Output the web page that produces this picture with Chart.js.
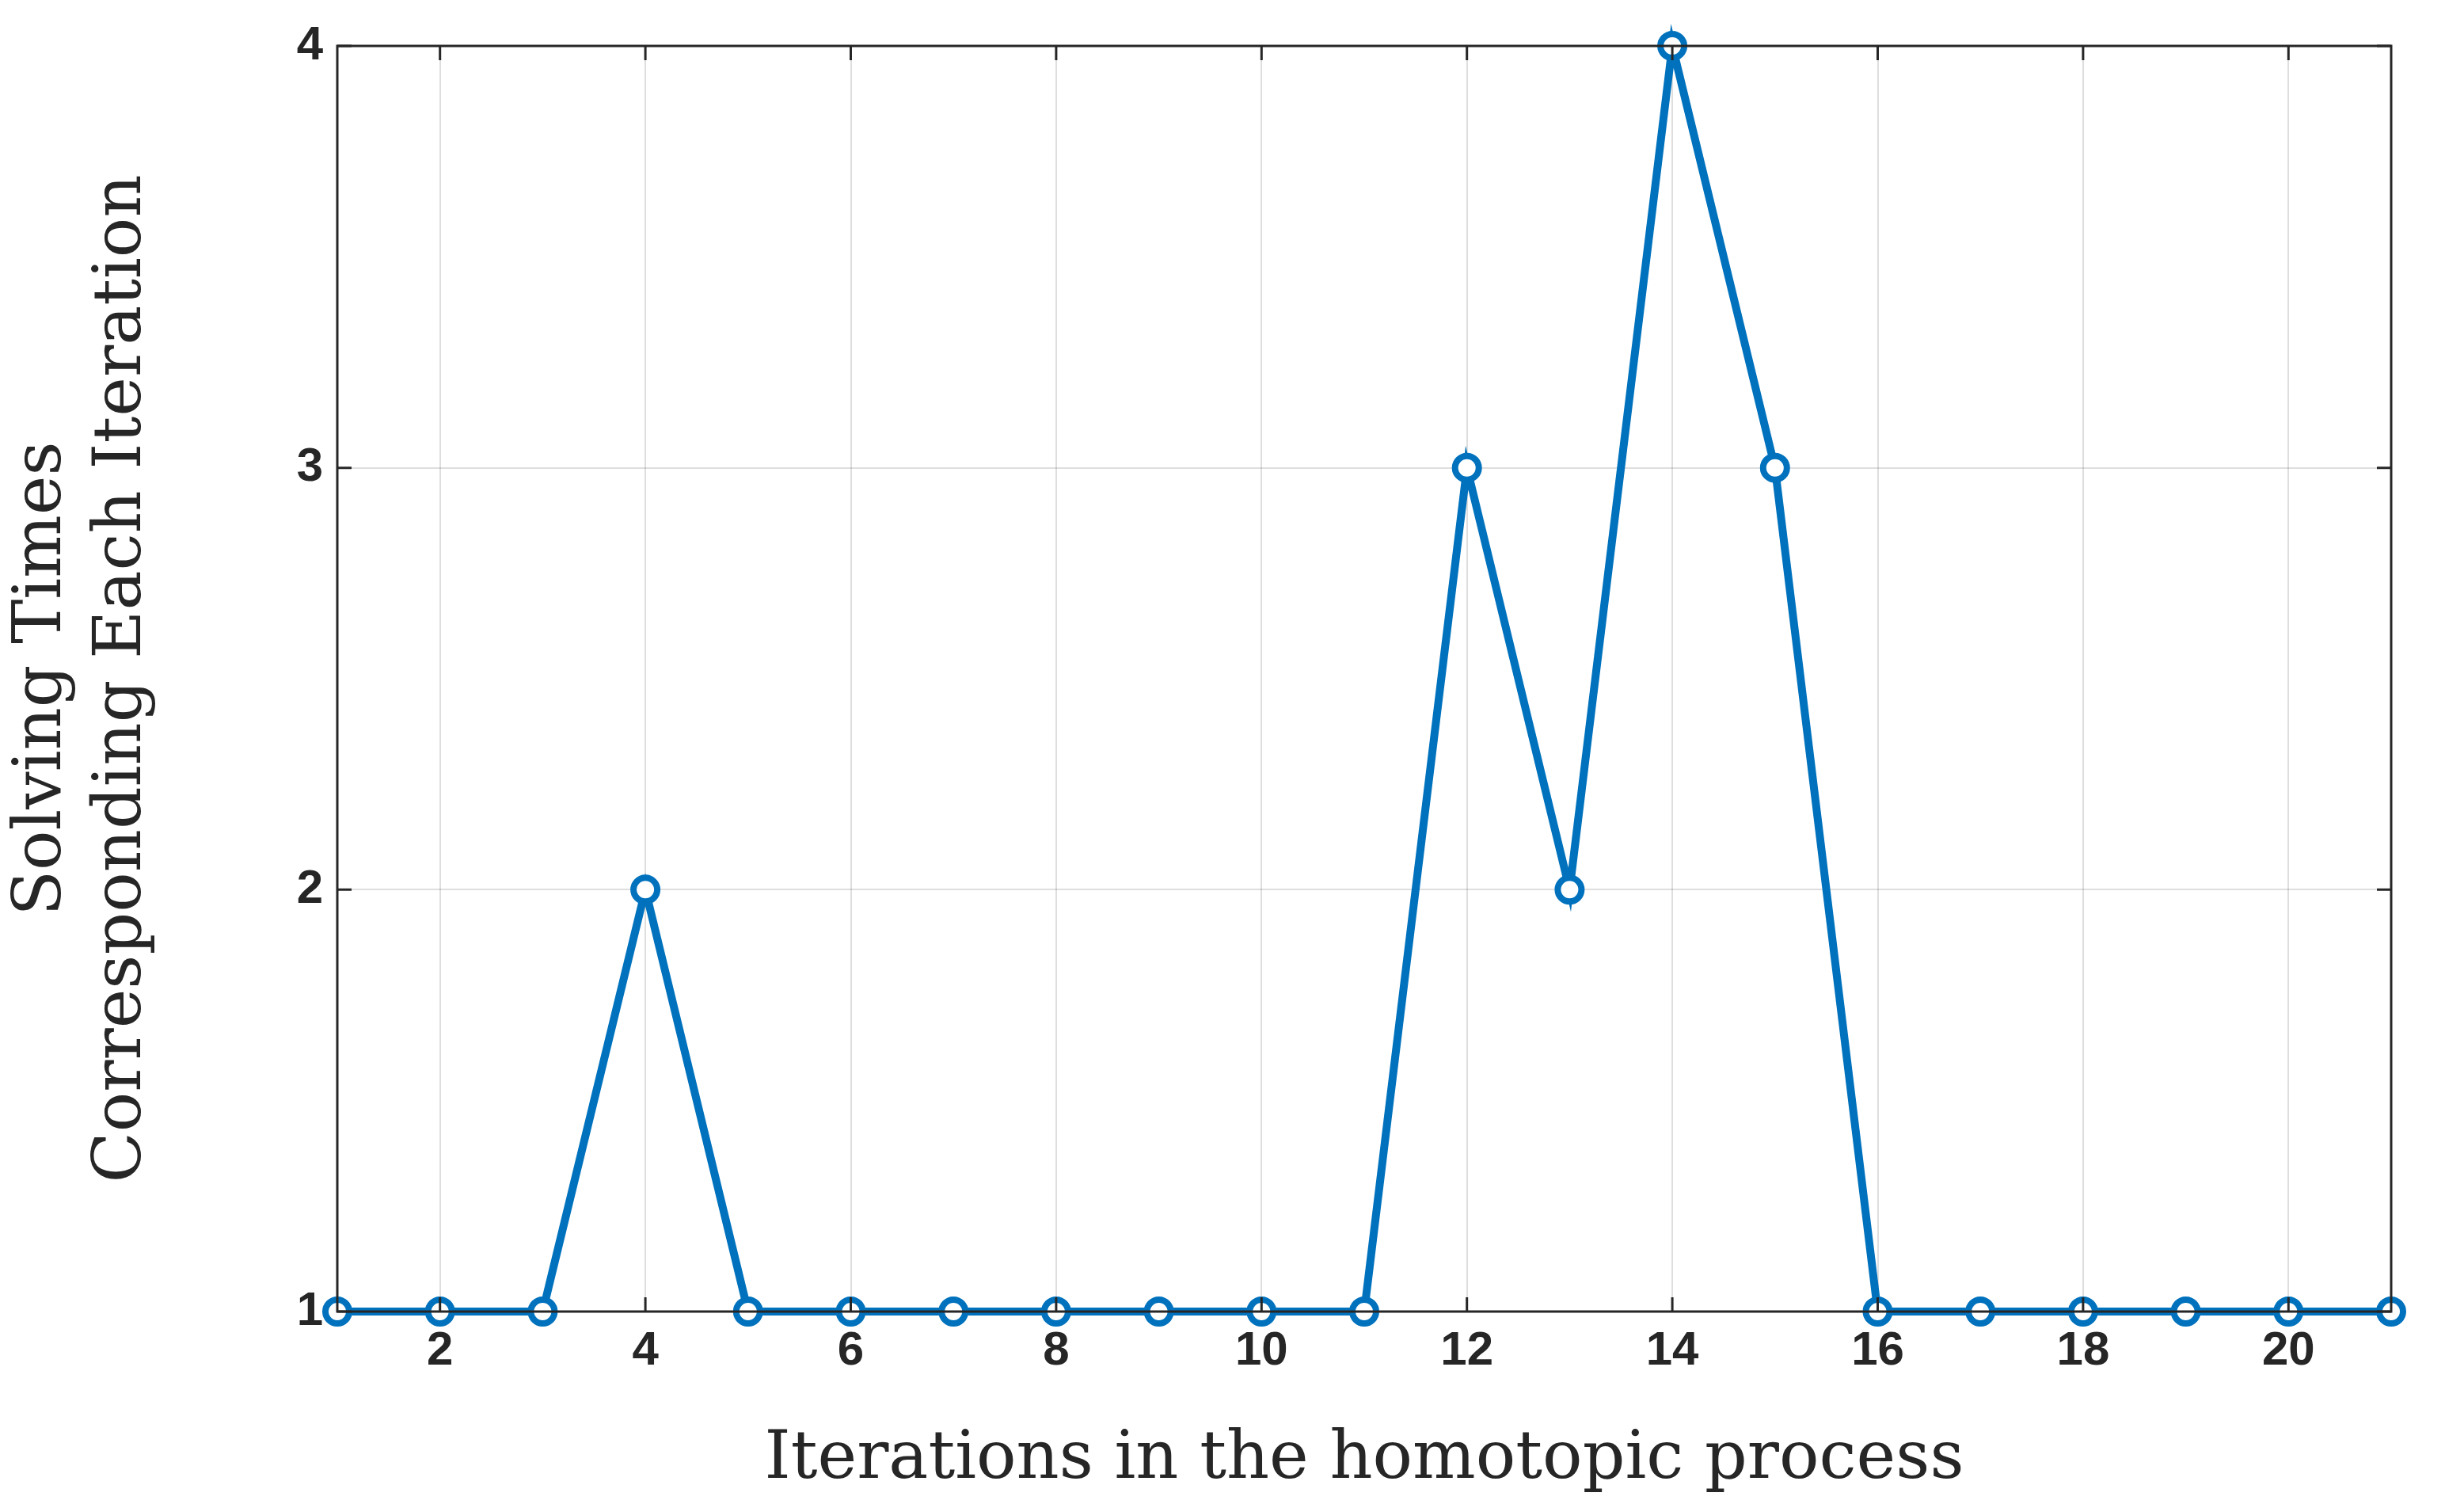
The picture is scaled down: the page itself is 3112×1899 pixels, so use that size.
<!DOCTYPE html>
<html>
<head>
<meta charset="utf-8">
<script src="https://cdn.jsdelivr.net/npm/chart.js@4"></script>
<style>
  html, body { margin: 0; padding: 0; background: #fff; }
  #wrap { width: 3112px; height: 1899px; }
</style>
</head>
<body>
<div id="wrap"><canvas id="chart"></canvas></div>
<script>
// Data
const iterations = [1,2,3,4,5,6,7,8,9,10,11,12,13,14,15,16,17,18,19,20,21];
const solvingTimes = [1,1,1,2,1,1,1,1,1,1,1,3,2,4,3,1,1,1,1,1,1];
const xTickValues = [2,4,6,8,10,12,14,16,18,20];
const yTickValues = [1,2,3,4];

const tickFont = { family: 'Liberation Sans', size: 60, weight: 'bold' };
const titleFont = { family: 'DejaVu Serif', size: 84 };

// Draw the full box around the plot area, like MATLAB
const boxPlugin = {
    id: 'box',
    afterDraw(c) {
        const a = c.chartArea, ctx = c.ctx;
        ctx.save();
        ctx.strokeStyle = '#262626';
        ctx.lineWidth = 3;
        ctx.strokeRect(a.left, a.top, a.right - a.left, a.bottom - a.top);
        // inward tick marks
        ctx.beginPath();
        xTickValues.forEach(v => {
            const x = c.scales.x.getPixelForValue(v);
            ctx.moveTo(x, a.bottom); ctx.lineTo(x, a.bottom - 18);
            ctx.moveTo(x, a.top); ctx.lineTo(x, a.top + 18);
        });
        yTickValues.forEach(v => {
            const y = c.scales.y.getPixelForValue(v);
            ctx.moveTo(a.left, y); ctx.lineTo(a.left + 18, y);
            ctx.moveTo(a.right, y); ctx.lineTo(a.right - 18, y);
        });
        ctx.stroke();
        ctx.restore();
    }
};

new Chart(document.getElementById('chart').getContext('2d'), {
    type: 'line',
    data: {
        datasets: [{
            data: iterations.map((x, i) => ({ x: x, y: solvingTimes[i] })),
            borderColor: '#0072BD',
            borderWidth: 10,
            pointStyle: 'circle',
            pointRadius: 15,
            pointBorderWidth: 8,
            pointBorderColor: '#0072BD',
            pointBackgroundColor: '#ffffff',
            tension: 0,
            clip: false
        }]
    },
    options: {
        responsive: true,
        maintainAspectRatio: false,
        animation: false,
        layout: { padding: { top: 58, right: 92, left: 0, bottom: 0 } },
        plugins: { legend: { display: false }, tooltip: { enabled: false } },
        scales: {
            x: {
                type: 'linear',
                min: 1, max: 21,
                afterBuildTicks: s => { s.ticks = xTickValues.map(v => ({ value: v })); },
                afterFit: s => { s.height = 243; },
                grid: { color: 'rgba(0,0,0,0.13)', lineWidth: 2, drawTicks: false },
                border: { display: false },
                ticks: { font: tickFont, color: '#262626', padding: 14 },
                title: { display: true, text: 'Iterations in the homotopic process', font: titleFont, color: '#262626', padding: { top: -6 } }
            },
            y: {
                min: 1, max: 4,
                afterBuildTicks: s => { s.ticks = yTickValues.map(v => ({ value: v })); },
                afterFit: s => { s.width = 426; },
                grid: { color: 'rgba(0,0,0,0.13)', lineWidth: 2, drawTicks: false },
                border: { display: false },
                ticks: { font: tickFont, color: '#262626', padding: 18 },
                title: { display: true, text: ['Solving Times', 'Corresponding Each Iteration'], font: titleFont, color: '#262626', padding: { bottom: 0 } }
            }
        }
    },
    plugins: [boxPlugin]
});
</script>
</body>
</html>
